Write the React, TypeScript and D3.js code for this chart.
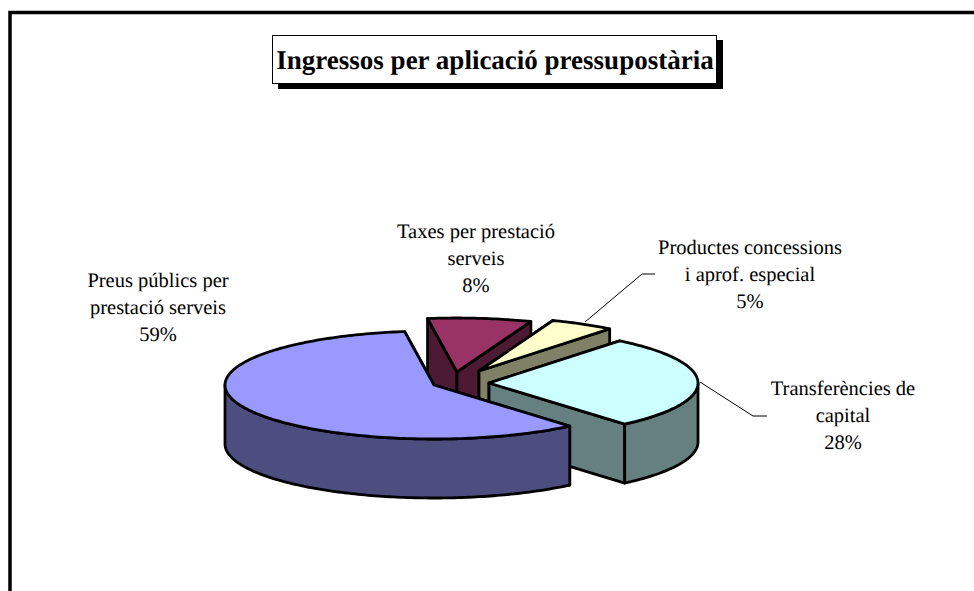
import { useEffect, useRef } from "react";
import * as d3 from "d3";

const categories = [
  ["Preus públics per", "prestació serveis"],
  ["Taxes per prestació", "serveis"],
  ["Productes concessions", "i aprof. especial"],
  ["Transferències de", "capital"],
];
const values = [59, 8, 5, 28];
const topColors = ["#9999FF", "#993366", "#FFFFCC", "#CCFFFF"];
const wallColors = ["#4D4D80", "#4D1A33", "#808066", "#668080"];
// apex of each exploded slice
const apexX = [434, 457, 479, 489];
const apexY = [385, 372, 371, 383];
const labelX = [158, 476, 750, 843];
const labelY = [287, 238, 254, 395];
const title = "Ingressos per aplicació pressupostària";

const W = 974;
const H = 591;
const rx = 209;
const ry = 54;
const depth = 59;
const rad = Math.PI / 180;
const FONT = "'Liberation Serif', 'Times New Roman', serif";

export default function App() {
  const ref = useRef<SVGSVGElement | null>(null);

  useEffect(() => {
    const svg = d3.select(ref.current);
    svg.selectAll("*").remove();

    // frame runs off the page on the right and at the bottom
    svg
      .append("rect")
      .attr("x", 10)
      .attr("y", 12.5)
      .attr("width", W + 50)
      .attr("height", H + 50)
      .attr("fill", "#fff")
      .attr("stroke", "#000")
      .attr("stroke-width", 3.5);

    // title box with its shadow
    svg.append("rect").attr("x", 278).attr("y", 40).attr("width", 445).attr("height", 49).attr("fill", "#000");
    svg
      .append("rect")
      .attr("x", 272.5)
      .attr("y", 35.5)
      .attr("width", 444)
      .attr("height", 48)
      .attr("fill", "#fff")
      .attr("stroke", "#000")
      .attr("stroke-width", 1);
    svg
      .append("text")
      .attr("x", 495)
      .attr("y", 69)
      .attr("text-anchor", "middle")
      .attr("font-family", FONT)
      .attr("font-weight", 700)
      .attr("font-size", 27)
      .attr("text-rendering", "geometricPrecision")
      .attr("fill", "#000")
      .text(title);

    const pie = d3
      .pie<number>()
      .sort(null)
      .startAngle(139.5 * rad)
      .endAngle(499.5 * rad);
    const slices = pie(values);

    const line = d3.line<[number, number]>();
    const rim = (i: number, a: number, dy = 0): [number, number] => [
      apexX[i] + rx * Math.sin(a),
      apexY[i] - ry * Math.cos(a) + dy,
    ];
    const sweep = (a0: number, a1: number) => {
      const n = Math.max(2, Math.ceil((a1 - a0) / rad));
      return d3.range(n + 1).map((k) => a0 + ((a1 - a0) * k) / n);
    };

    const g = svg
      .append("g")
      .attr("stroke", "#000")
      .attr("stroke-width", 2.8)
      .attr("stroke-linejoin", "round");

    // painted back to front: the big slice goes over everything else
    [1, 2, 3, 0].forEach((i) => {
      const s = slices[i];
      const apex: [number, number] = [apexX[i], apexY[i]];
      const apexLow: [number, number] = [apexX[i], apexY[i] + depth];

      // cut faces
      [s.startAngle, s.endAngle].forEach((a) => {
        g.append("path")
          .attr("fill", wallColors[i])
          .attr("d", line([apex, rim(i, a), rim(i, a, depth), apexLow]) + "Z");
      });

      // outer wall, only the part that faces the viewer (angles run past 360)
      [90, 450].forEach((front) => {
        const a0 = Math.max(s.startAngle, front * rad);
        const a1 = Math.min(s.endAngle, (front + 180) * rad);
        if (a1 <= a0) return;
        const upper = sweep(a0, a1).map((a) => rim(i, a));
        const lower = sweep(a0, a1)
          .reverse()
          .map((a) => rim(i, a, depth));
        g.append("path")
          .attr("fill", wallColors[i])
          .attr("d", line([...upper, ...lower]) + "Z");
      });

      // top face
      g.append("path")
        .attr("fill", topColors[i])
        .attr(
          "d",
          line([apex, ...sweep(s.startAngle, s.endAngle).map((a) => rim(i, a))]) + "Z"
        );
    });

    // leader lines
    const leaders: [number, number][][] = [
      [[585, 322], [642, 274], [655, 274]],
      [[700, 382], [753, 416], [767, 416]],
    ];
    leaders.forEach((pts) => {
      svg
        .append("path")
        .attr("d", line(pts))
        .attr("fill", "none")
        .attr("stroke", "#000")
        .attr("stroke-width", 1);
    });

    // labels
    categories.forEach((lines, i) => {
      const text = svg
        .append("text")
        .attr("text-anchor", "middle")
        .attr("font-family", FONT)
        .attr("font-size", 20.5)
        .attr("text-rendering", "geometricPrecision")
        .attr("fill", "#000");
      [...lines, `${values[i]}%`].forEach((t, k) => {
        text
          .append("tspan")
          .attr("x", labelX[i])
          .attr("y", labelY[i] + k * 27)
          .text(t);
      });
    });
  }, []);

  return (
    <svg
      ref={ref}
      width={W}
      height={H}
      style={{ position: "absolute", left: 0, top: 0, display: "block" }}
    />
  );
}
